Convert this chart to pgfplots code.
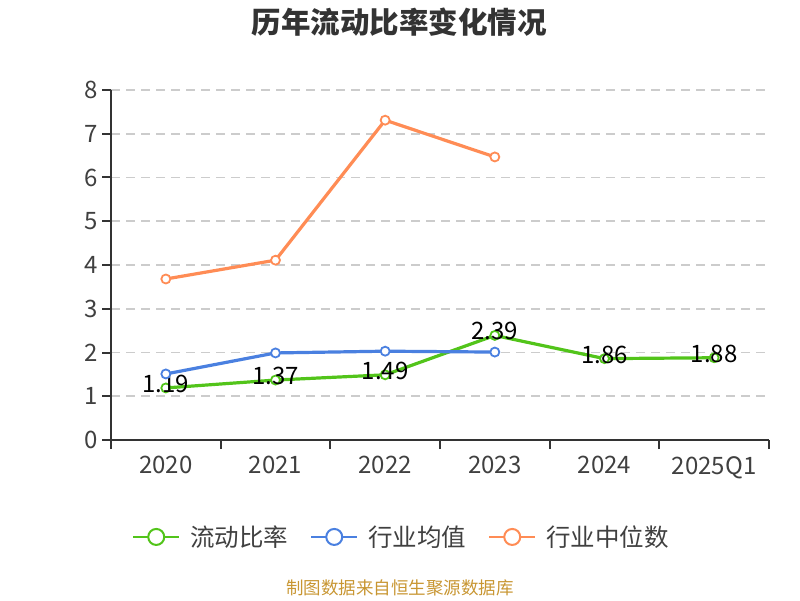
\documentclass[border=0pt]{standalone}
\usepackage{fontspec}
\setmainfont{Noto Sans CJK SC}
\usepackage{pgfplots}
\pgfplotsset{compat=1.18}
\definecolor{cgreen}{RGB}{82,196,26}
\definecolor{cblue}{RGB}{74,128,224}
\definecolor{corange}{RGB}{255,140,85}
\definecolor{txt}{RGB}{51,51,51}
\definecolor{ticktxt}{RGB}{64,64,64}
\definecolor{src}{RGB}{200,150,50}
\definecolor{gridc}{RGB}{204,204,204}

\pgfplotstableread{
x ratio
0 1.19
1 1.37
2 1.49
3 2.39
4 1.86
5 1.88
}\ratiotab
\pgfplotstableread{
x avg
0 1.51
1 1.99
2 2.03
3 2.01
}\avgtab
\pgfplotstableread{
x med
0 3.68
1 4.11
2 7.31
3 6.47
}\medtab

\begin{document}
\begin{tikzpicture}[x=1pt,y=1pt]
\useasboundingbox (0,0) rectangle (800,600);
\node[font=\bfseries\fontsize{29.5}{29.5}\selectfont, text=txt] at (399,578) {历年流动比率变化情况};
\node[font=\fontsize{17.5}{17.5}\selectfont, text=src] at (400,12) {制图数据来自恒生聚源数据库};
\begin{axis}[
  at={(111pt,160pt)}, anchor=south west,
  scale only axis, width=658pt, height=350pt,
  xmin=-0.5, xmax=5.5, ymin=0, ymax=8,
  clip=false,
  axis x line*=bottom, axis y line*=left,
  axis line style={line width=2pt, draw=txt, -},
  tick align=outside,
  major tick length=9pt,
  every tick/.style={draw=txt, line width=2pt},
  xtick={-0.5,0.5,1.5,2.5,3.5,4.5,5.5},
  xticklabels={2020,2021,2022,2023,2024,2025Q1,{}},
  xticklabel style={xshift=54.83pt, yshift=-4pt},
  ytick={0,1,...,8},
  yticklabel style={xshift=-1pt},
  ymajorgrids,
  grid style={draw=gridc, line width=1.6pt, dash pattern=on 9pt off 6pt},
  /pgf/number format/assume math mode=true,
  tick label style={font=\fontsize{24}{24}\selectfont, text=ticktxt},
  legend style={at={(0.4415,-0.277)}, anchor=center, legend columns=3,
    draw=none, fill=none, font=\fontsize{24.5}{24.5}\selectfont, text=ticktxt,
    /tikz/every odd column/.append style={column sep=8pt},
    /tikz/every even column/.append style={column sep=20pt},
    legend cell align=left},
  legend image code/.code={
    \draw[#1, line width=2pt] (0pt,0pt) -- (46pt,0pt);
    \draw[#1, line width=2pt, fill=white] (23pt,0pt) circle (8pt);
  },
]
\addplot[cgreen, line width=3.2pt, mark=*, mark size=4.5pt,
  mark options={fill=white, draw=cgreen, line width=1.8pt},
  nodes near coords={\pgfmathprintnumber[fixed,precision=2,fixed zerofill]{\pgfplotspointmeta}},
  every node near coord/.append style={anchor=center, yshift=4pt,
    font=\fontsize{24}{24}\selectfont, text=black}]
  table[x=x, y=ratio] {\ratiotab};
\addplot[cblue, line width=3.2pt, mark=*, mark size=4.5pt,
  mark options={fill=white, draw=cblue, line width=1.8pt}]
  table[x=x, y=avg] {\avgtab};
\addplot[corange, line width=3.2pt, mark=*, mark size=4.5pt,
  mark options={fill=white, draw=corange, line width=1.8pt}]
  table[x=x, y=med] {\medtab};
\legend{流动比率,行业均值,行业中位数}
\end{axis}
\end{tikzpicture}
\end{document}
